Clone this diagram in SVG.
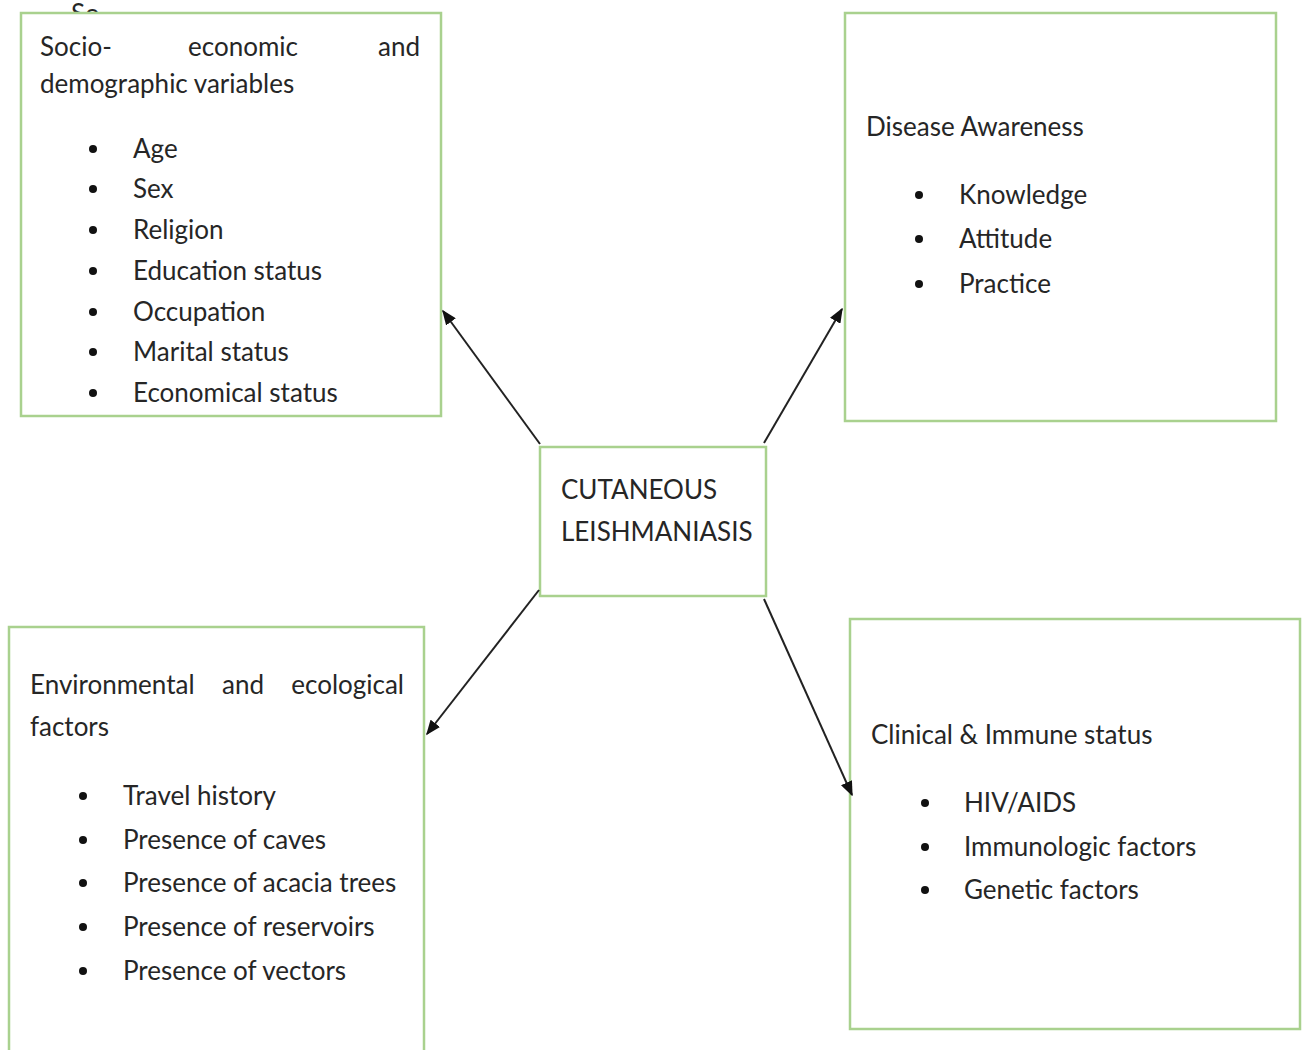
<svg xmlns="http://www.w3.org/2000/svg" width="1306" height="1050" viewBox="0 0 1306 1050">
  <style>
    .box { fill: #ffffff; stroke: #a9d18e; stroke-width: 2.5; }
    .t { font-family: Lato, "Open Sans", sans-serif; font-size: 26px; fill: #262626; }
    .dot { fill: #111111; }
    .conn { stroke: #222222; stroke-width: 2; fill: none; marker-end: url(#arrow); }
  </style>
  <defs>
    <marker id="arrow" viewBox="0 0 10 10" refX="9" refY="5" markerWidth="15" markerHeight="12" markerUnits="userSpaceOnUse" orient="auto" preserveAspectRatio="none">
      <path d="M0,0 L10,5 L0,10 z" fill="#111111"/>
    </marker>
  </defs>

  <rect width="1306" height="1050" fill="#ffffff"/>

  <!-- partially hidden heading behind the first box -->
  <text class="t" x="71" y="23">So</text>

  <g id="socio-demographic">
    <rect class="box" x="21" y="13" width="420" height="403"/>
    <text class="t" x="40" y="56">Socio-</text>
    <text class="t" x="188" y="56">economic</text>
    <text class="t" x="420" y="56" text-anchor="end">and</text>
    <text class="t" x="40" y="93">demographic variables</text>
    <circle class="dot" cx="93" cy="149" r="4"/>
    <text class="t" x="133" y="158">Age</text>
    <circle class="dot" cx="93" cy="189" r="4"/>
    <text class="t" x="133" y="198">Sex</text>
    <circle class="dot" cx="93" cy="230" r="4"/>
    <text class="t" x="133" y="239">Religion</text>
    <circle class="dot" cx="93" cy="271" r="4"/>
    <text class="t" x="133" y="280">Education status</text>
    <circle class="dot" cx="93" cy="312" r="4"/>
    <text class="t" x="133" y="321">Occupation</text>
    <circle class="dot" cx="93" cy="352" r="4"/>
    <text class="t" x="133" y="361">Marital status</text>
    <circle class="dot" cx="93" cy="393" r="4"/>
    <text class="t" x="133" y="402">Economical status</text>
  </g>

  <g id="disease-awareness">
    <rect class="box" x="845" y="13" width="431" height="408"/>
    <text class="t" x="866" y="136">Disease Awareness</text>
    <circle class="dot" cx="919" cy="195" r="4"/>
    <text class="t" x="959" y="204">Knowledge</text>
    <circle class="dot" cx="919" cy="239" r="4"/>
    <text class="t" x="959" y="248">Attitude</text>
    <circle class="dot" cx="919" cy="284" r="4"/>
    <text class="t" x="959" y="293">Practice</text>
  </g>

  <g id="cutaneous-leishmaniasis">
    <rect class="box" x="540" y="447" width="226" height="149"/>
    <text class="t" x="561" y="499">CUTANEOUS</text>
    <text class="t" x="561" y="541">LEISHMANIASIS</text>
  </g>

  <g id="environmental-ecological">
    <rect class="box" x="9" y="627" width="415" height="440"/>
    <text class="t" x="30" y="694">Environmental</text>
    <text class="t" x="222" y="694">and</text>
    <text class="t" x="404" y="694" text-anchor="end">ecological</text>
    <text class="t" x="30" y="736">factors</text>
    <circle class="dot" cx="83" cy="796" r="4"/>
    <text class="t" x="123" y="805">Travel history</text>
    <circle class="dot" cx="83" cy="840" r="4"/>
    <text class="t" x="123" y="849">Presence of caves</text>
    <circle class="dot" cx="83" cy="883" r="4"/>
    <text class="t" x="123" y="892">Presence of acacia trees</text>
    <circle class="dot" cx="83" cy="927" r="4"/>
    <text class="t" x="123" y="936">Presence of reservoirs</text>
    <circle class="dot" cx="83" cy="971" r="4"/>
    <text class="t" x="123" y="980">Presence of vectors</text>
  </g>

  <g id="clinical-immune">
    <rect class="box" x="850" y="619" width="450" height="410"/>
    <text class="t" x="871" y="744">Clinical &amp; Immune status</text>
    <circle class="dot" cx="925" cy="803" r="4"/>
    <text class="t" x="964" y="812">HIV/AIDS</text>
    <circle class="dot" cx="925" cy="847" r="4"/>
    <text class="t" x="964" y="856">Immunologic factors</text>
    <circle class="dot" cx="925" cy="890" r="4"/>
    <text class="t" x="964" y="899">Genetic factors</text>
  </g>

  <g id="connectors">
    <line class="conn" x1="540" y1="444" x2="443" y2="311"/>
    <line class="conn" x1="764" y1="443" x2="842" y2="309"/>
    <line class="conn" x1="539" y1="590" x2="427" y2="734"/>
    <line class="conn" x1="764" y1="599" x2="852" y2="795"/>
  </g>
</svg>
